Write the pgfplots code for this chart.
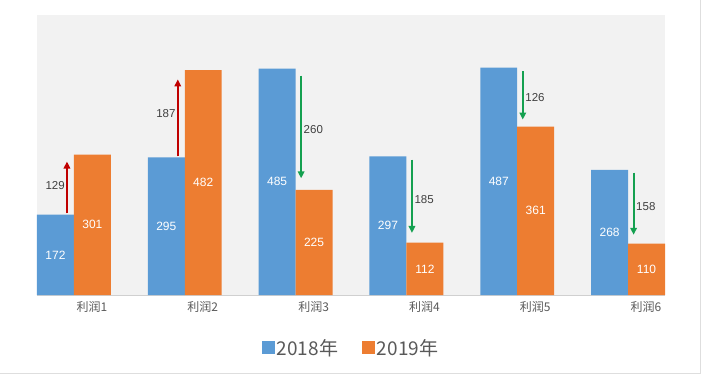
\documentclass[border=0pt]{standalone}
\usepackage{pgfplots}
\pgfplotsset{compat=1.18}
\usepackage{fontspec}
\setmainfont{Liberation Sans}
\newfontfamily\cjk{Noto Sans CJK SC}
\usetikzlibrary{arrows.meta}
\definecolor{cblue}{HTML}{5B9BD5}
\definecolor{corange}{HTML}{ED7D31}
\definecolor{cred}{HTML}{C00000}
\definecolor{cgreen}{HTML}{14A050}
\definecolor{bggray}{HTML}{F2F2F2}
\definecolor{axgray}{HTML}{D0D0D0}
\definecolor{txtgray}{HTML}{595959}
\definecolor{lblgray}{HTML}{404040}
\begin{document}
\begin{tikzpicture}
\useasboundingbox (-37bp,-80bp) rectangle (667bp,295bp);
\draw[axgray!70, line width=0.8bp] (-37bp,-78bp) -- (663bp,-78bp) -- (663bp,295bp);
\begin{axis}[
  scale only axis, width=628bp, height=280bp,
  at={(0,0)}, anchor=south west,
  xmin=-0.3333, xmax=5.3333, ymin=0, ymax=600,
  axis x line*=bottom, axis y line=none,
  x axis line style={axgray, line width=0.8bp, -},
  axis background/.style={fill=bggray},
  xtick={0,1,2,3,4,5}, major tick length=0pt,
  xticklabels={{\cjk 利润1},{\cjk 利润2},{\cjk 利润3},{\cjk 利润4},{\cjk 利润5},{\cjk 利润6}},
  xticklabel style={font=\fontsize{12bp}{13bp}\selectfont, text=txtgray, xshift=18bp, yshift=-3bp},
  ytick=\empty,
  clip=false,
  legend columns=2,
  legend style={at={(0.5,-0.189)}, anchor=center, draw=none, fill=none,
    font=\cjk\fontsize{19bp}{22bp}\selectfont, text=txtgray,
    /tikz/every even column/.append style={column sep=22bp}},
  legend image code/.code={\fill[#1] (0bp,-6.5bp) rectangle (13bp,6.5bp);},
]
\addplot[ybar, fill=cblue, draw=none, bar width=0.3333, bar shift=-0.16667]
  coordinates {(0,172) (1,295) (2,485) (3,297) (4,487) (5,268)};
\addlegendentry{2018年}
\addplot[ybar, fill=corange, draw=none, bar width=0.3333, bar shift=0.16667]
  coordinates {(0,301) (1,482) (2,225) (3,112) (4,361) (5,110)};
\addlegendentry{2019年}

% value labels inside bars
\addplot[draw=none, mark=none, forget plot, nodes near coords, point meta=explicit symbolic,
  nodes near coords style={white, anchor=center, font=\fontsize{12bp}{14bp}\selectfont}]
  table[x expr=\thisrow{x}-0.16667, y expr=\thisrow{v}/2, meta=v] {
x v
0 172
1 295
2 485
3 297
4 487
5 268
};
\addplot[draw=none, mark=none, forget plot, nodes near coords, point meta=explicit symbolic,
  nodes near coords style={white, anchor=center, font=\fontsize{12bp}{14bp}\selectfont}]
  table[x expr=\thisrow{x}+0.16667, y expr=\thisrow{v}/2, meta=v] {
x v
0 301
1 482
2 225
3 112
4 361
5 110
};

% change arrows
\addplot[forget plot, draw=cred, line width=2bp, -{Triangle[length=7bp,width=6.5bp]}] coordinates {(-0.063,175) (-0.063,286)};
\addplot[forget plot, draw=cred, line width=2bp, -{Triangle[length=7bp,width=6.5bp]}] coordinates {(0.937,297) (0.937,462)};
\addplot[forget plot, draw=cgreen, line width=2bp, -{Triangle[length=7bp,width=6.5bp]}] coordinates {(2.05,470) (2.05,250)};
\addplot[forget plot, draw=cgreen, line width=2bp, -{Triangle[length=7bp,width=6.5bp]}] coordinates {(3.05,290) (3.05,133)};
\addplot[forget plot, draw=cgreen, line width=2bp, -{Triangle[length=7bp,width=6.5bp]}] coordinates {(4.05,479) (4.05,376)};
\addplot[forget plot, draw=cgreen, line width=2bp, -{Triangle[length=7bp,width=6.5bp]}] coordinates {(5.05,262) (5.05,129)};

% change labels
\addplot[draw=none, mark=none, forget plot, nodes near coords, point meta=explicit symbolic,
  nodes near coords style={text=lblgray, anchor=center, font=\fontsize{11.5bp}{13bp}\selectfont}]
  table[meta=d] {
x y d
-0.17 234 129
0.83 388 187
2.16 354 260
3.16 204 185
4.16 423 126
5.16 189 158
};
\end{axis}
\end{tikzpicture}
\end{document}
